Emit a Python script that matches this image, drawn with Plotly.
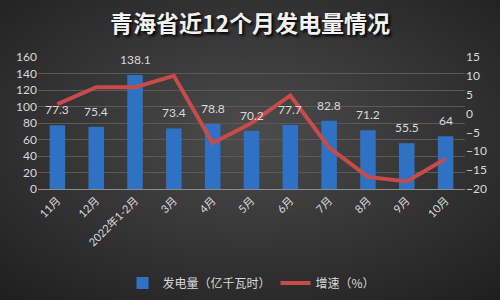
import plotly.graph_objects as go

months = ["11月", "12月", "2022年1-2月", "3月", "4月", "5月", "6月", "7月", "8月", "9月", "10月"]
generation = [77.3, 75.4, 138.1, 73.4, 78.8, 70.2, 77.7, 82.8, 71.2, 55.5, 64]
growth = [2.5, 7.0, 7.0, 10.0, -7.8, -2.5, 4.8, -9.0, -16.8, -18.0, -12.0]
gen_labels = ["77.3", "75.4", "138.1", "73.4", "78.8", "70.2", "77.7", "82.8", "71.2", "55.5", "64"]

W, H = 500, 300
ml, mr, mt, mb = 38, 35, 57, 111
pw, ph = W - ml - mr, H - mt - mb

font_fam = "Lato, 'Noto Sans CJK SC', sans-serif"
cjk = "'Noto Sans CJK SC', sans-serif"
tick_col = "#d9d9d9"

svg = ("<svg xmlns='http://www.w3.org/2000/svg' width='500' height='300'>"
       "<defs><radialGradient id='g' cx='50%' cy='45%' r='72%'>"
       "<stop offset='0%' stop-color='%234c4c4c'/>"
       "<stop offset='100%' stop-color='%23202020'/></radialGradient></defs>"
       "<rect width='500' height='300' fill='url(%23g)'/></svg>")
bg_src = "data:image/svg+xml;charset=utf-8," + svg.replace("<", "%3C").replace(">", "%3E").replace(" ", "%20")

fig = go.Figure()
fig.add_trace(go.Bar(
    x=months, y=generation, name="发电量（亿千瓦时）",
    marker=dict(color="#2f72c4", line=dict(width=0)),
    width=0.4,
))
fig.add_trace(go.Scatter(
    x=months, y=growth, name="增速（%）", yaxis="y2",
    mode="lines", line=dict(color="#c94a4a", width=4),
))

annotations = []
for m, v, t in zip(months, generation, gen_labels):
    annotations.append(dict(x=m, y=v, xref="x", yref="y", text=t, showarrow=False,
                            yanchor="bottom", yshift=6,
                            font=dict(size=12, color=tick_col, family=font_fam)))

fig.update_layout(
    width=W, height=H,
    margin=dict(l=ml, r=mr, t=mt, b=mb, autoexpand=False),
    paper_bgcolor="#333333",
    plot_bgcolor="rgba(0,0,0,0)",
    images=[dict(source=bg_src, xref="paper", yref="paper",
                 x=-ml / pw, y=1 + mt / ph, sizex=W / pw, sizey=H / ph,
                 xanchor="left", yanchor="top", sizing="stretch", layer="below")],
    title=dict(text="<b>青海省近12个月发电量情况</b>", x=0.5, xanchor="center",
               y=1 - 24 / H, yanchor="middle",
               font=dict(family=cjk, size=23, color="#f2f2f2", shadow="2px 2px 3px #000000")),
    font=dict(family=font_fam, color=tick_col, size=12),
    annotations=annotations,
    xaxis=dict(tickangle=-45, tickfont=dict(size=11, family=font_fam, color=tick_col),
               showline=True, linecolor="#8c8c8c", linewidth=1, showgrid=False,
               ticks="", zeroline=False, automargin=False),
    yaxis=dict(range=[0, 160], dtick=20, showgrid=True, gridcolor="#5a5a5a", gridwidth=1,
               zeroline=False, tickfont=dict(size=12, color=tick_col), ticks="", automargin=False),
    yaxis2=dict(range=[-20, 15], dtick=5, overlaying="y", side="right", showgrid=False,
                zeroline=False, tickfont=dict(size=12, color=tick_col), ticks="", automargin=False),
    legend=dict(orientation="h", x=0.5, xanchor="center", y=-(283 - (H - mb)) / ph, yanchor="middle",
                font=dict(size=12, family=cjk, color=tick_col), bgcolor="rgba(0,0,0,0)"),
    showlegend=True,
)

fig.write_html("out.html")
